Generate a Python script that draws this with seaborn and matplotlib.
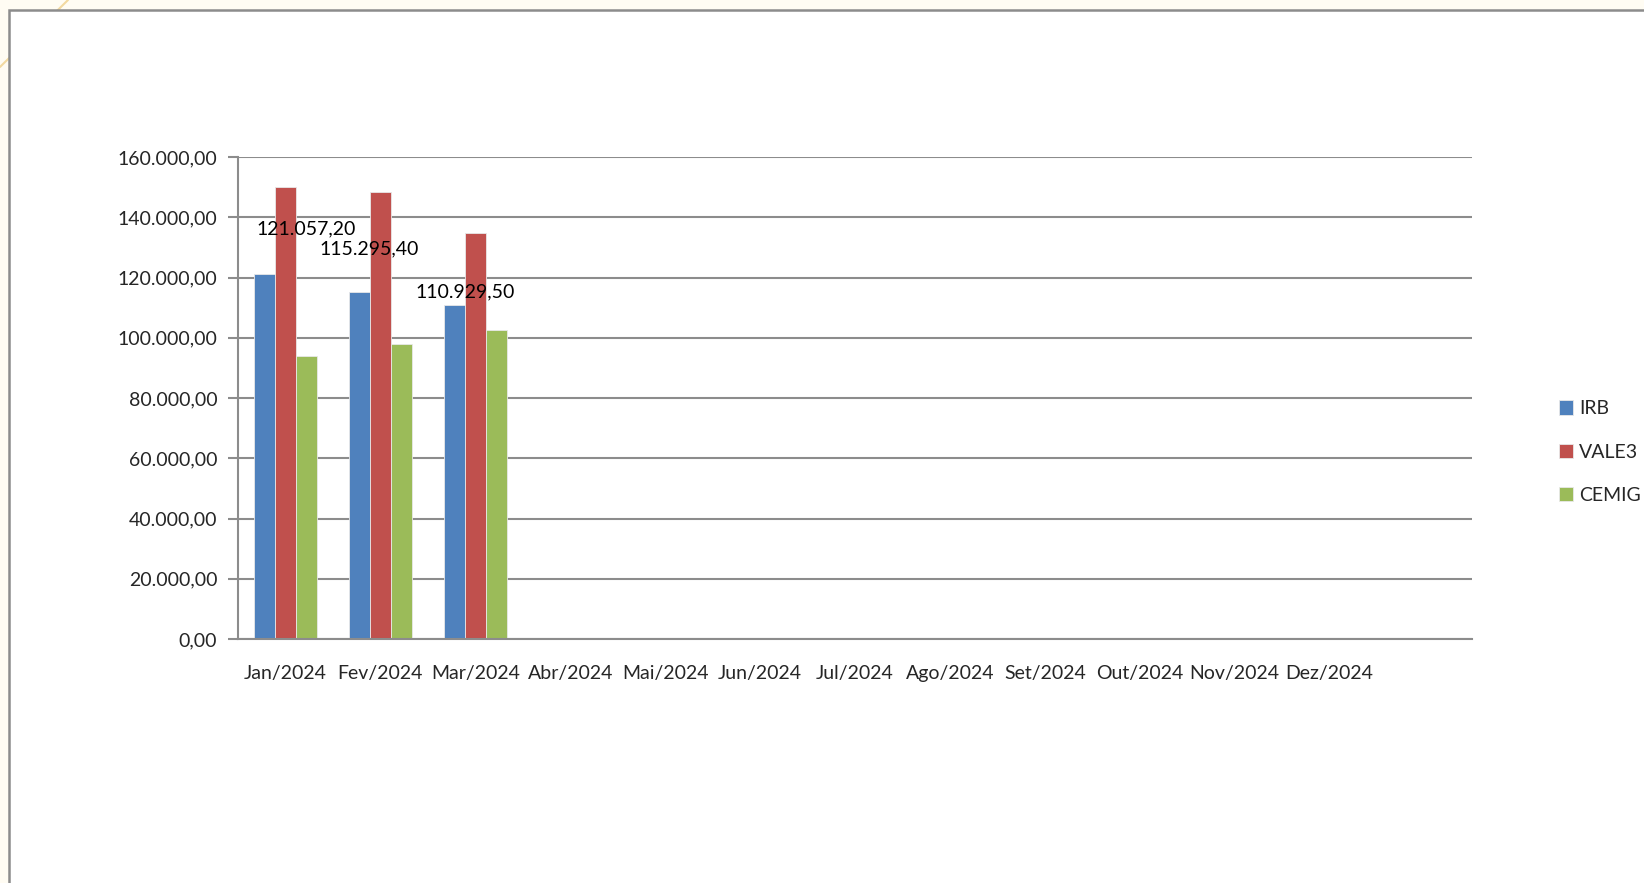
import numpy as np
import pandas as pd
import seaborn as sns
import matplotlib.pyplot as plt
from matplotlib.patches import Rectangle
from matplotlib.lines import Line2D
from matplotlib.ticker import FuncFormatter

#%% dados
meses = ["Jan/2024", "Fev/2024", "Mar/2024", "Abr/2024", "Mai/2024", "Jun/2024",
         "Jul/2024", "Ago/2024", "Set/2024", "Out/2024", "Nov/2024", "Dez/2024"]
ativos = ["IRB", "VALE3", "CEMIG"]
irb = [121057.20, 115295.40, 110929.50]
vale3 = [150000, 148400, 134700]
cemig = [94000, 97800, 102600]
rotulos_irb = ["121.057,20", "115.295,40", "110.929,50"]
cores = ["#4F81BD", "#C0504D", "#9BBB59"]

# long format pro seaborn
n = len(irb)
df = pd.DataFrame({
    "mes": meses[:n] * 3,
    "ativo": ["IRB"] * n + ["VALE3"] * n + ["CEMIG"] * n,
    "valor": irb + vale3 + cemig,
})
ordem = meses + [" "]   # excel deixa uma categoria vazia no fim

#%% figura
sns.set_style("white")
plt.rcParams["font.family"] = ["Lato", "DejaVu Sans"]
plt.rcParams["font.size"] = 14

W, H = 1644, 883
fig = plt.figure(figsize=(W / 100, H / 100), dpi=100, facecolor="#FFFCF3")

# linha decorativa do slide + moldura do grafico
fig.add_artist(Line2D([0, 68 / W], [1 - 67 / H, 1], color="#F2D9A0", lw=1.5, zorder=0))
fig.add_artist(Rectangle((8.5 / W, -0.1), 1.2, 1.1 - 10 / H, facecolor="white",
                         edgecolor="#8C8C8C", lw=1.8, zorder=1))

ax = fig.add_axes([238 / W, 1 - 639 / H, (1472 - 238) / W, (639 - 157) / H], zorder=2)
ax.set_facecolor("none")

sns.barplot(data=df, x="mes", y="valor", hue="ativo", order=ordem, hue_order=ativos,
            palette=cores, width=0.66, gap=0, saturation=1, ax=ax,
            edgecolor="#E8E8E8", linewidth=0.6)

ax.set_xlim(-0.5, len(ordem) - 0.5)
ax.set_ylim(0, 160000)
ax.set_yticks(np.arange(0, 160001, 20000))
ax.yaxis.set_major_formatter(FuncFormatter(
    lambda v, p: f"{v:,.2f}".replace(",", "X").replace(".", ",").replace("X", ".")))
ax.set_xticks(range(len(ordem)))
ax.set_xticklabels(ordem)
ax.set_xticks(np.arange(-0.5, len(ordem), 1), minor=True)
ax.tick_params(axis="x", which="major", length=0, pad=18.5, labelsize=14)
ax.tick_params(axis="x", which="minor", length=8, color="#8C8C8C", width=1.5)
ax.tick_params(axis="y", length=7, color="#8C8C8C", width=1.5, pad=8, labelsize=14, left=True)
ax.set_xlabel("")
ax.set_ylabel("")

ax.set_axisbelow(True)
ax.yaxis.grid(True, color="#8C8C8C", lw=1.5)
for s in ["top", "right"]:
    ax.spines[s].set_visible(False)
for s in ["left", "bottom"]:
    ax.spines[s].set_color("#8C8C8C")
    ax.spines[s].set_linewidth(1.5)

# rotulos da serie IRB (posicionados a mao no excel)
desloc = [(21, 45), (-11, 43), (-10, 13)]
for i, (v, txt) in enumerate(zip(irb, rotulos_irb)):
    ax.annotate(txt, xy=(i, v), xytext=desloc[i], textcoords="offset pixels",
                ha="center", va="center", fontsize=14, color="black")

handles, labels = ax.get_legend_handles_labels()
ax.get_legend().remove()
fig.legend(handles, labels, loc="center left", bbox_to_anchor=(1551 / W, 1 - 452 / H),
           frameon=False, fontsize=14, handlelength=0.75, handleheight=0.75,
           handletextpad=0.3, labelspacing=1.35, borderaxespad=0)

fig.savefig("out.png", dpi=100, facecolor=fig.get_facecolor())
